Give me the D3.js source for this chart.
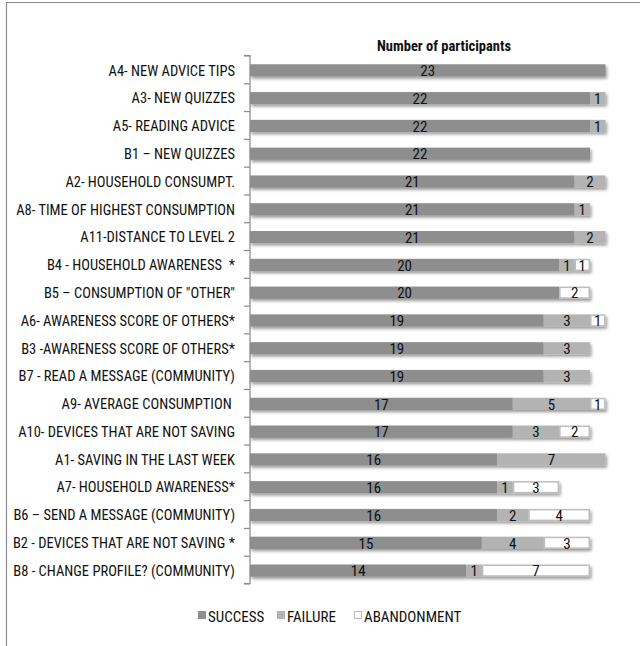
<!DOCTYPE html>
<html>
<head>
<meta charset="utf-8">
<script src="https://cdn.jsdelivr.net/npm/d3@7/dist/d3.min.js"></script>
<style>
  html, body { margin: 0; padding: 0; background: #fff; }
  svg { display: block; }
  text { font-family: "Liberation Sans Narrow", "Arial Narrow", "Roboto Condensed", sans-serif; white-space: pre; }
</style>
</head>
<body>
<svg id="chart" width="640" height="646"></svg>
<script>
// Tasks, listed top to bottom
const categories = [
  "A4- NEW ADVICE TIPS",
  "A3- NEW QUIZZES",
  "A5- READING ADVICE",
  "B1 \u2013 NEW QUIZZES",
  "A2- HOUSEHOLD CONSUMPT.",
  "A8- TIME OF HIGHEST CONSUMPTION",
  "A11-DISTANCE TO LEVEL 2",
  "B4 - HOUSEHOLD AWARENESS  *",
  "B5 \u2013 CONSUMPTION OF \"OTHER\"",
  "A6- AWARENESS SCORE OF OTHERS*",
  "B3 -AWARENESS SCORE OF OTHERS*",
  "B7 - READ A MESSAGE (COMMUNITY)",
  "A9- AVERAGE CONSUMPTION ",
  "A10- DEVICES THAT ARE NOT SAVING",
  "A1- SAVING IN THE LAST WEEK",
  "A7- HOUSEHOLD AWARENESS*",
  "B6 \u2013 SEND A MESSAGE (COMMUNITY)",
  "B2 - DEVICES THAT ARE NOT SAVING *",
  "B8 - CHANGE PROFILE? (COMMUNITY)"
];
const success     = [23, 22, 22, 22, 21, 21, 21, 20, 20, 19, 19, 19, 17, 17, 16, 16, 16, 15, 14];
const failure     = [ 0,  1,  1,  0,  2,  1,  2,  1,  0,  3,  3,  3,  5,  3,  7,  1,  2,  4,  1];
const abandonment = [ 0,  0,  0,  0,  0,  0,  0,  1,  2,  1,  0,  0,  1,  2,  0,  3,  4,  3,  7];
const seriesNames = ["SUCCESS", "FAILURE", "ABANDONMENT"];
const chartTitle = "Number of participants";
const xMax = 23;

const colors = { SUCCESS: "#8e8e8e", FAILURE: "#b3b3b3", ABANDONMENT: "#ffffff" };

const svg = d3.select("#chart");
const W = 640, H = 646;

// chart area frame (top and left edges)
svg.append("path")
  .attr("d", `M6.5,${H} V2.5 H${W}`)
  .attr("fill", "none")
  .attr("stroke", "#8a8a8a")
  .attr("stroke-width", 1.2);

const defs = svg.append("defs");
const shadow = defs.append("filter").attr("id", "barShadow")
  .attr("x", "-5%").attr("y", "-40%").attr("width", "115%").attr("height", "200%");
shadow.append("feDropShadow")
  .attr("dx", 1.5).attr("dy", 2.2).attr("stdDeviation", 1.4)
  .attr("flood-color", "#000").attr("flood-opacity", 0.4);

const plotLeft = 250, plotRight = 605.5, plotTop = 55.5, plotBottom = 583.5;

const x = d3.scaleLinear().domain([0, xMax]).range([plotLeft, plotRight]);
const y = d3.scaleBand().domain(categories).range([plotTop + 1, plotBottom + 1])
  .paddingInner(0.56).paddingOuter(0.28);

// stacked rows
const rows = categories.map((c, i) => ({ cat: c, SUCCESS: success[i], FAILURE: failure[i], ABANDONMENT: abandonment[i] }));
const stack = d3.stack().keys(seriesNames)(rows);

// category axis: ticks on category boundaries
const yIdx = d3.scaleLinear().domain([0, categories.length]).range([plotTop, plotBottom]);
const axisG = svg.append("g").attr("transform", `translate(${plotLeft},0)`)
  .call(d3.axisLeft(yIdx).tickValues(d3.range(categories.length + 1)).tickSize(6).tickFormat(""));
axisG.selectAll("path.domain").attr("stroke", "#8a8a8a").attr("stroke-width", 1.2).attr("d", `M-6,${plotTop}H0V${plotBottom}H-6`);
axisG.selectAll(".tick line").attr("stroke", "#8a8a8a").attr("stroke-width", 1.2);

// category labels
svg.append("g").selectAll("text").data(categories).join("text")
  .attr("x", 235)
  .attr("y", d => y(d) + y.bandwidth() / 2)
  .attr("dy", "0.36em")
  .attr("text-anchor", "end")
  .attr("font-size", 14.5)
  .attr("fill", "#111")
  .text(d => d);

// bars
const barG = svg.append("g").attr("filter", "url(#barShadow)");
stack.forEach(layer => {
  const key = layer.key;
  const inset = key === "ABANDONMENT" ? 0.75 : 0;
  barG.append("g").selectAll("rect").data(layer.filter(d => d[1] - d[0] > 0)).join("rect")
    .attr("x", d => x(d[0]) + inset)
    .attr("y", d => y(d.data.cat) + inset)
    .attr("width", d => x(d[1]) - x(d[0]) - 2 * inset)
    .attr("height", y.bandwidth() - 2 * inset)
    .attr("fill", colors[key])
    .attr("stroke", key === "ABANDONMENT" ? "#bdbdbd" : "none")
    .attr("stroke-width", key === "ABANDONMENT" ? 1.5 : 0);
});

// value labels
const labG = svg.append("g");
stack.forEach(layer => {
  labG.append("g").selectAll("text").data(layer.filter(d => d[1] - d[0] > 0)).join("text")
    .attr("x", d => (x(d[0]) + x(d[1])) / 2)
    .attr("y", d => y(d.data.cat) + y.bandwidth() / 2)
    .attr("dy", "0.38em")
    .attr("text-anchor", "middle")
    .attr("font-size", 15)
    .attr("fill", "#111")
    .text(d => d[1] - d[0]);
});

// title
svg.append("text")
  .attr("x", 444).attr("y", 51)
  .attr("text-anchor", "middle")
  .attr("font-size", 14.5)
  .attr("font-weight", "bold")
  .attr("fill", "#111")
  .text(chartTitle);

// legend
const legend = svg.append("g");
const legendItems = [
  { name: "SUCCESS", x: 198 },
  { name: "FAILURE", x: 277 },
  { name: "ABANDONMENT", x: 354 }
];
legendItems.forEach(it => {
  const open = it.name === "ABANDONMENT";
  const g = legend.append("g").attr("transform", `translate(${it.x},617)`);
  g.append("rect")
    .attr("x", open ? 0.5 : 0).attr("y", open ? -5.5 : -6)
    .attr("width", open ? 7 : 8).attr("height", open ? 7 : 8)
    .attr("fill", colors[it.name])
    .attr("stroke", open ? "#bdbdbd" : "none");
  g.append("text")
    .attr("x", 10).attr("y", 0).attr("dy", "0.36em")
    .attr("font-size", 15)
    .attr("fill", "#111")
    .text(it.name);
});
</script>
</body>
</html>
